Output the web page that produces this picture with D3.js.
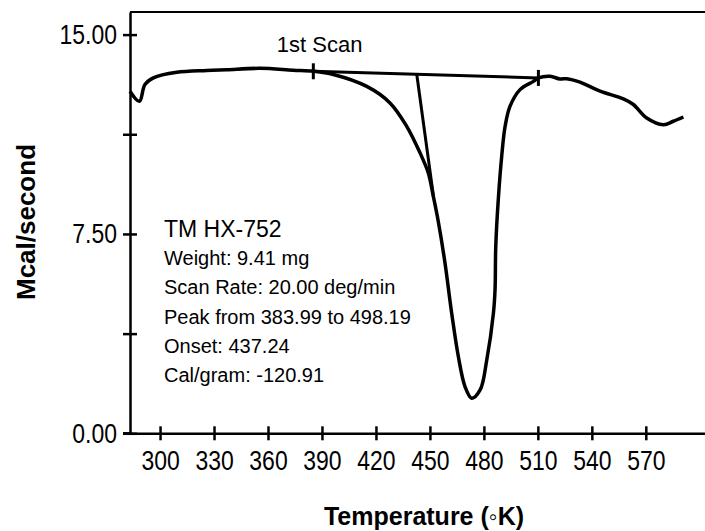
<!DOCTYPE html>
<html>
<head>
<meta charset="utf-8">
<script src="https://cdn.jsdelivr.net/npm/d3@7/dist/d3.min.js"></script>
<style>
  body { margin: 0; background: #fff; }
  svg { display: block; font-family: "Liberation Sans", Arial, Helvetica, sans-serif; }
  .axis path, .axis line { stroke: #000; stroke-width: 2.5; }
  .tick-label { font-family: "Liberation Sans", Arial, sans-serif; font-size: 28px; }
</style>
</head>
<body>
<div id="chart"></div>
<script>
// CONST and GLOBALS
const width = 705,
  height = 531,
  narrow = 0.82; // tick labels are set in a condensed face

// DSC trace, 1st scan (temperature in K, heat flow in Mcal/second)
const temps = [283.3, 288.5, 291.6, 296.3, 309.3, 325.9, 337.1, 355.6, 373.9, 385.2,
  396.3, 414.9, 427.8, 437.1, 444.5, 449.1, 451.9, 454.7, 458.4, 462.1,
  465.8, 469.5, 473.2, 477.9, 481.6, 485.3, 486.2, 486.6, 488.0, 489.9,
  491.8, 494.5, 500.1, 507.5, 510.3, 516.8, 522.3, 526.1, 533.4, 544.6,
  557.5, 563.1, 570.5, 579.8, 585.3, 590.9];
const heat = [12.87, 12.49, 13.12, 13.37, 13.58, 13.65, 13.68, 13.73, 13.66, 13.62,
  13.50, 13.05, 12.43, 11.55, 10.55, 9.79, 8.91, 7.95, 6.40, 4.52,
  2.89, 1.76, 1.32, 1.63, 2.76, 4.52, 5.40, 7.03, 8.79, 10.42,
  11.55, 12.30, 12.93, 13.24, 13.37, 13.43, 13.33, 13.34, 13.21, 12.87,
  12.58, 12.37, 11.86, 11.61, 11.74, 11.90];

// baseline drawn under the peak, and the onset tangent
const baseTemps = [385.2, 510.3];
const baseVals = [13.62, 13.37];
const onsetTemps = [442.7, 452.0];
const onsetVals = [13.5, 8.9];

const xTicks = [300, 330, 360, 390, 420, 450, 480, 510, 540, 570];
const yTicks = [0, 3.75, 7.5, 11.25, 15];
const yLabelTicks = [0, 7.5, 15];

const infoTitle = 'TM HX-752';
const infoLines = [
  'Weight: 9.41 mg',
  'Scan Rate: 20.00 deg/min',
  'Peak from 383.99 to 498.19',
  'Onset: 437.24',
  'Cal/gram: -120.91',
];

let svg, xScale, yScale;

function init() {
  svg = d3.select('#chart').append('svg')
    .attr('width', width)
    .attr('height', height);

  // SCALES
  xScale = d3.scaleLinear().domain([283.3, 602.9]).range([130, 705]);
  yScale = d3.scaleLinear().domain([0, 15.85]).range([433.3, 12]);

  // AXES
  const yAxis = d3.axisLeft(yScale)
    .tickValues(yTicks)
    .tickSizeInner(6)
    .tickSizeOuter(0)
    .tickFormat(d => yLabelTicks.includes(d) ? d.toFixed(2) : '');

  const gy = svg.append('g')
    .attr('class', 'axis y-axis')
    .attr('transform', `translate(${xScale.range()[0]},0)`)
    .call(yAxis);
  gy.selectAll('.tick line').attr('x1', 7).attr('x2', -7);
  gy.selectAll('.tick text')
    .attr('class', 'tick-label')
    .attr('x', -13 / narrow)
    .attr('transform', `scale(${narrow},1)`)
    .attr('fill', '#000');

  const xAxis = d3.axisBottom(xScale)
    .tickValues(xTicks)
    .tickSizeOuter(0)
    .tickFormat(d3.format('d'));

  const gx = svg.append('g')
    .attr('class', 'axis x-axis')
    .attr('transform', `translate(0,${yScale(0)})`)
    .call(xAxis);
  gx.selectAll('.tick line').attr('y1', -7).attr('y2', 7);
  gx.selectAll('.tick text')
    .attr('class', 'tick-label')
    .attr('y', 17)
    .attr('transform', `scale(${narrow},1)`)
    .attr('fill', '#000');

  // x axis line reaches back to meet the y tick at 0
  gx.append('line')
    .attr('x1', xScale.range()[0] - 7)
    .attr('x2', xScale.range()[0])
    .attr('stroke', '#000')
    .attr('stroke-width', 2.5);

  // top frame line
  svg.append('line')
    .attr('x1', xScale.range()[0])
    .attr('x2', xScale.range()[1])
    .attr('y1', yScale.range()[1])
    .attr('y2', yScale.range()[1])
    .attr('stroke', '#000')
    .attr('stroke-width', 2);

  // axis titles
  svg.append('text')
    .attr('transform', `translate(35,222) rotate(-90)`)
    .attr('text-anchor', 'middle')
    .attr('font-weight', 'bold')
    .attr('font-size', 26)
    .text('Mcal/second');

  svg.append('text')
    .attr('x', 424)
    .attr('y', 525)
    .attr('text-anchor', 'middle')
    .attr('font-weight', 'bold')
    .attr('font-size', 25)
    .text('Temperature (\u25E6K)');

  draw();
}

function draw() {
  const points = temps.map((t, i) => [t, heat[i]]);

  const line = d3.line()
    .x(d => xScale(d[0]))
    .y(d => yScale(d[1]))
    .curve(d3.curveCatmullRom.alpha(0.5));

  svg.append('path')
    .datum(points)
    .attr('fill', 'none')
    .attr('stroke', '#000')
    .attr('stroke-width', 3.5)
    .attr('stroke-linejoin', 'round')
    .attr('d', line);

  // baseline
  svg.append('path')
    .datum(baseTemps.map((t, i) => [t, baseVals[i]]))
    .attr('fill', 'none')
    .attr('stroke', '#000')
    .attr('stroke-width', 3)
    .attr('d', d3.line().x(d => xScale(d[0])).y(d => yScale(d[1])));

  // end markers on the baseline
  svg.selectAll('.marker')
    .data(baseTemps.map((t, i) => [t, baseVals[i]]))
    .join('line')
    .attr('class', 'marker')
    .attr('x1', d => xScale(d[0]))
    .attr('x2', d => xScale(d[0]))
    .attr('y1', d => yScale(d[1]) - 8)
    .attr('y2', d => yScale(d[1]) + 8)
    .attr('stroke', '#000')
    .attr('stroke-width', 3);

  // onset tangent
  svg.append('path')
    .datum(onsetTemps.map((t, i) => [t, onsetVals[i]]))
    .attr('fill', 'none')
    .attr('stroke', '#000')
    .attr('stroke-width', 3)
    .attr('d', d3.line().x(d => xScale(d[0])).y(d => yScale(d[1])));

  // labels
  svg.append('text')
    .attr('x', xScale(364.9))
    .attr('y', 51.5)
    .attr('font-size', 22)
    .text('1st Scan');

  svg.append('text')
    .attr('x', 164)
    .attr('y', 236.5)
    .attr('font-size', 23)
    .text(infoTitle);

  svg.selectAll('.info')
    .data(infoLines)
    .join('text')
    .attr('class', 'info')
    .attr('x', 164)
    .attr('y', (d, i) => 265 + i * 29.3)
    .attr('font-size', 20)
    .text(d => d);
}

init();
</script>
</body>
</html>
